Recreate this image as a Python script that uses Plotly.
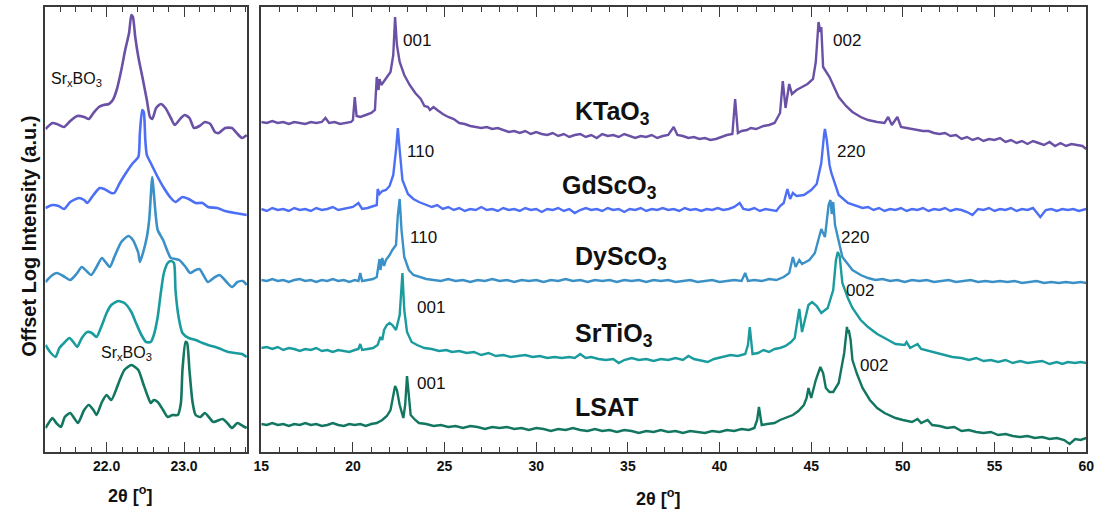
import plotly.graph_objects as go

# ---------------- data (2theta in degrees, log intensity in arbitrary units relative to each trace baseline) -------------
names = ["KTaO3", "GdScO3", "DyScO3", "SrTiO3", "LSAT"]
colors = ["#6a51a6", "#4d6ff6", "#3b91c7", "#1a9b9e", "#127660"]
offsets = [302, 232, 162, 87, 7]

# tick labels
fine_tick_vals = [22.0, 23.0]
fine_tick_text = ["22.0", "23.0"]
wide_tick_vals = [15, 20, 25, 30, 35, 40, 45, 50, 55, 60]
wide_tick_text = ["15", "20", "25", "30", "35", "40", "45", "50", "55", "60"]

# ---- wide scans (right panel) ----
ktao3_x = [15.0, 15.3, 15.6, 15.9, 16.2, 16.5, 16.8, 17.1, 17.4, 17.7, 18.0, 18.3, 18.5, 18.7, 19.0, 19.3, 19.6, 19.9,
           20.0, 20.1, 20.2, 20.4, 20.7, 21.0, 21.2, 21.3, 21.4, 21.45, 21.55, 21.7, 21.9, 22.05, 22.2, 22.3, 22.4,
           22.55, 22.8, 23.1, 23.4, 23.7, 23.9, 24.1, 24.2, 24.4, 24.6, 24.9, 25.2, 25.5, 25.8, 26.1, 26.4, 26.7,
           27.0, 27.3, 27.6, 27.9, 28.2, 28.5, 28.8, 29.1, 29.4, 29.7, 30.0, 30.3, 30.6, 30.9, 31.2, 31.5, 31.8,
           32.1, 32.4, 32.7, 33.0, 33.3, 33.6, 33.9, 34.2, 34.5, 34.8, 35.1, 35.4, 35.7, 36.0, 36.3, 36.6, 36.9,
           37.2, 37.5, 37.7, 38.0, 38.3, 38.6, 38.9, 39.2, 39.5, 39.8, 40.1, 40.4, 40.7, 40.85, 41.0, 41.2, 41.5,
           41.7, 42.0, 42.4, 42.7, 43.0, 43.3, 43.45, 43.6, 43.8, 43.95, 44.2, 44.5, 44.8, 45.1, 45.25, 45.4, 45.5,
           45.55, 45.65, 46.0, 46.5, 46.9, 47.25, 47.7, 48.1, 48.6, 49.0, 49.2, 49.4, 49.7, 49.9, 50.2, 50.5, 50.8,
           51.1, 51.4, 51.7, 52.0, 52.3, 52.6, 52.9, 53.2, 53.5, 53.8, 54.1, 54.4, 54.7, 55.0, 55.3, 55.6, 55.9,
           56.2, 56.5, 56.8, 57.1, 57.4, 57.7, 58.0, 58.3, 58.6, 58.9, 59.2, 59.5, 59.8, 60.0]
ktao3_y = [28, 27, 29, 27, 28, 26, 28, 27, 26, 28, 27, 28, 32, 27, 28, 26, 27, 28,
           30, 53, 34, 33, 35, 37, 40, 73, 60, 71, 65, 69, 74, 78, 95, 133, 105,
           88, 75, 65, 57, 51, 44, 43, 40, 43, 40, 36, 33, 31, 27, 26, 24, 23,
           22, 23, 21, 22, 20, 18, 19, 17, 19, 16, 18, 16, 15, 17, 14, 16, 13,
           15, 16, 13, 15, 12, 16, 14, 15, 13, 16, 14, 12, 14, 13, 15, 12, 14,
           15, 23, 15, 14, 12, 13, 11, 12, 10, 11, 13, 15, 16, 51, 17, 19, 20,
           22, 21, 24, 25, 27, 37, 69, 42, 66, 56, 60, 63, 66, 71, 88, 128, 118,
           123, 83, 73, 53, 44, 38, 33, 30, 28, 27, 33, 25, 33, 23, 22, 21, 20,
           19, 19, 17, 16, 17, 14, 15, 11, 13, 10, 12, 9, 11, 10, 12, 8, 10,
           7, 9, 6, 9, 7, 5, 8, 4, 7, 4, 6, 5, 4, 1]

gdsco3_x = [15.0, 15.3, 15.6, 15.9, 16.2, 16.5, 16.8, 17.1, 17.4, 17.7, 18.0, 18.3, 18.6, 18.9, 19.2, 19.5, 19.8,
            20.0, 20.3, 20.5, 20.8, 21.1, 21.3, 21.35, 21.45, 21.6, 21.8, 22.0, 22.2, 22.35, 22.45, 22.55, 22.7,
            23.0, 23.3, 23.6, 24.0, 24.3, 24.6, 24.9, 25.2, 25.5, 25.8, 26.1, 26.4, 26.7, 27.0, 27.3, 27.6, 27.9,
            28.2, 28.5, 28.8, 29.1, 29.4, 29.7, 30.0, 30.3, 30.6, 30.9, 31.2, 31.5, 31.8, 32.1, 32.4, 32.7, 33.0,
            33.3, 33.6, 33.9, 34.2, 34.5, 34.8, 35.1, 35.4, 35.7, 36.0, 36.3, 36.6, 36.9, 37.2, 37.5, 37.8, 38.1,
            38.4, 38.7, 39.0, 39.3, 39.6, 39.9, 40.2, 40.5, 40.8, 41.1, 41.3, 41.6, 41.9, 42.2, 42.5, 42.8, 43.1,
            43.3, 43.5, 43.7, 43.85, 44.0, 44.2, 44.6, 45.0, 45.3, 45.55, 45.7, 45.75, 45.85, 46.0, 46.1, 46.5,
            47.0, 47.3, 47.8, 48.1, 48.4, 48.7, 49.0, 49.3, 49.6, 49.9, 50.2, 50.5, 50.8, 51.1, 51.4, 51.7, 52.0,
            52.3, 52.6, 52.9, 53.2, 53.5, 53.8, 54.1, 54.4, 54.7, 55.0, 55.3, 55.6, 55.9, 56.2, 56.5, 56.8, 57.1,
            57.5, 57.8, 58.1, 58.4, 58.7, 59.0, 59.3, 59.6, 60.0]
gdsco3_y = [11, 9, 12, 10, 11, 9, 12, 10, 11, 9, 12, 10, 11, 13, 10, 11, 12,
            13, 17, 11, 12, 14, 15, 31, 26, 29, 30, 34, 45, 70, 92, 70, 40,
            26, 21, 18, 15, 13, 15, 11, 13, 10, 12, 9, 11, 10, 13, 10, 11, 9,
            12, 10, 11, 9, 12, 10, 11, 8, 11, 10, 12, 9, 11, 7, 10, 12, 10,
            11, 9, 12, 10, 11, 8, 11, 10, 12, 9, 11, 10, 12, 10, 11, 9, 12,
            10, 11, 9, 11, 10, 12, 10, 11, 13, 17, 11, 10, 12, 9, 11, 10, 9,
            14, 17, 31, 21, 27, 24, 25, 30, 36, 57, 85, 91, 80, 55, 47, 25,
            17, 15, 12, 13, 10, 12, 9, 11, 10, 12, 9, 11, 10, 12, 9, 11, 10,
            12, 9, 11, 10, 8, 5, 11, 10, 12, 9, 11, 10, 12, 9, 11, 10, 12,
            3, 10, 11, 9, 11, 10, 11, 9, 11]

dysco3_x = [15.0, 15.3, 15.6, 15.9, 16.2, 16.5, 16.8, 17.1, 17.4, 17.7, 18.0, 18.3, 18.6, 18.9, 19.2, 19.5, 19.8,
            20.1, 20.3, 20.4, 20.5, 20.8, 21.1, 21.3, 21.45, 21.5, 21.6, 21.7, 21.8, 22.0, 22.15, 22.35, 22.45,
            22.55, 22.65, 22.8, 23.05, 23.3, 23.6, 24.0, 24.4, 24.8, 25.2, 25.6, 26.0, 26.4, 26.8, 27.2, 27.6,
            28.0, 28.4, 28.8, 29.2, 29.6, 30.0, 30.4, 30.8, 31.2, 31.6, 32.0, 32.4, 32.8, 33.2, 33.6, 34.0, 34.4,
            34.8, 35.2, 35.6, 36.0, 36.4, 36.8, 37.2, 37.6, 38.0, 38.4, 38.8, 39.2, 39.6, 40.0, 40.4, 40.8, 41.2,
            41.4, 41.55, 41.9, 42.3, 42.7, 43.1, 43.5, 43.8, 44.0, 44.15, 44.35, 44.5, 44.9, 45.2, 45.4, 45.55,
            45.75, 45.95, 46.05, 46.12, 46.2, 46.3, 46.7, 47.25, 47.7, 48.1, 48.5, 48.9, 49.3, 49.7, 50.1, 50.5,
            50.9, 51.3, 51.7, 52.1, 52.5, 52.9, 53.3, 53.7, 54.1, 54.5, 54.9, 55.3, 55.7, 56.1, 56.5, 56.9, 57.3,
            57.7, 58.1, 58.5, 58.9, 59.3, 59.7, 60.0]
dysco3_y = [10, 9, 11, 9, 10, 8, 10, 11, 9, 10, 8, 10, 9, 11, 9, 10, 8,
            10, 9, 17, 9, 10, 11, 13, 31, 20, 32, 24, 30, 35, 40, 45, 75,
            91, 60, 33, 20, 15, 13, 11, 10, 9, 11, 9, 10, 8, 10, 9, 11,
            9, 10, 8, 10, 9, 10, 8, 10, 9, 11, 9, 10, 8, 10, 9, 10, 8,
            10, 9, 10, 8, 10, 9, 10, 8, 9, 10, 8, 9, 10, 8, 9, 10, 9,
            17, 9, 10, 9, 11, 10, 13, 17, 33, 23, 30, 26, 30, 37, 50, 61,
            53, 85, 90, 76, 88, 65, 33, 20, 15, 12, 10, 11, 9, 10, 8, 10,
            9, 10, 8, 9, 10, 8, 9, 10, 8, 9, 8, 9, 8, 9, 7, 8, 9,
            7, 8, 7, 8, 7, 8, 7]

srtio3_x = [15.0, 15.3, 15.6, 15.9, 16.2, 16.5, 16.8, 17.1, 17.4, 17.7, 18.0, 18.3, 18.6, 18.9, 19.2, 19.5, 19.8,
            20.1, 20.3, 20.4, 20.5, 20.8, 21.1, 21.35, 21.5, 21.6, 21.7, 21.85, 22.0, 22.15, 22.35, 22.55, 22.7,
            22.8, 22.95, 23.2, 23.5, 23.9, 24.3, 24.7, 25.1, 25.4, 25.8, 26.2, 26.6, 27.0, 27.4, 27.8, 28.2, 28.6,
            29.0, 29.4, 29.8, 30.2, 30.6, 31.0, 31.4, 31.8, 32.1, 32.4, 32.7, 33.0, 33.4, 33.8, 34.2, 34.5, 34.8,
            35.2, 35.6, 36.0, 36.4, 36.8, 37.2, 37.6, 38.0, 38.3, 38.6, 38.9, 39.35, 39.7, 40.1, 40.6, 41.0, 41.4,
            41.55, 41.65, 41.8, 42.1, 42.4, 42.7, 43.0, 43.3, 43.6, 43.9, 44.1, 44.25, 44.35, 44.5, 44.7, 44.85,
            45.05, 45.3, 45.55, 45.9, 46.2, 46.35, 46.45, 46.55, 46.7, 47.0, 47.25, 47.7, 48.1, 48.6, 49.2, 49.6,
            50.1, 50.2, 50.4, 50.8, 51.0, 51.4, 51.8, 52.3, 52.7, 53.2, 53.6, 54.0, 54.4, 54.8, 55.2, 55.6, 56.0,
            56.4, 56.8, 57.2, 57.6, 58.0, 58.4, 58.7, 59.0, 59.4, 59.7, 60.0]
srtio3_y = [17, 18, 16, 18, 15, 17, 16, 14, 16, 15, 17, 14, 15, 13, 15, 14, 13,
            15, 16, 21, 15, 16, 17, 20, 28, 25, 35, 40, 42, 40, 35, 50, 92,
            55, 33, 23, 20, 17, 16, 14, 15, 13, 14, 12, 13, 10, 12, 9, 10, 8,
            9, 10, 8, 9, 7, 8, 7, 8, 7, 11, 7, 8, 6, 5, 6, 2, 5,
            7, 5, 6, 4, 6, 5, 7, 5, 9, 6, 5, 3, 6, 8, 10, 9, 11,
            20, 38, 11, 12, 15, 13, 16, 17, 19, 23, 27, 47, 56, 33, 48, 60,
            63, 59, 52, 57, 75, 105, 113, 109, 82, 67, 57, 45, 38, 31, 25, 21,
            20, 23, 17, 21, 16, 14, 12, 10, 8, 7, 5, 7, 4, 5, 3, 5, 2,
            4, 2, 3, 4, 1, 3, 1, 3, 2, 3, 2]

lsat_x = [15.0, 15.3, 15.6, 15.9, 16.2, 16.5, 16.8, 17.1, 17.4, 17.7, 18.0, 18.3, 18.6, 18.9, 19.2, 19.5, 19.8,
          20.1, 20.4, 20.7, 21.0, 21.3, 21.6, 21.85, 22.05, 22.2, 22.3, 22.4, 22.55, 22.75, 22.85, 22.95, 23.05,
          23.15, 23.4, 23.6, 24.0, 24.4, 24.8, 25.2, 25.6, 26.0, 26.4, 26.8, 27.2, 27.6, 28.0, 28.4, 28.8, 29.2,
          29.6, 30.0, 30.4, 30.8, 31.2, 31.6, 32.0, 32.4, 32.8, 33.2, 33.6, 34.0, 34.4, 34.8, 35.2, 35.6, 36.0,
          36.4, 36.8, 37.2, 37.6, 38.0, 38.4, 38.8, 39.2, 39.6, 40.0, 40.4, 40.8, 41.2, 41.6, 41.9, 42.05, 42.15,
          42.3, 42.6, 43.0, 43.3, 43.6, 44.0, 44.3, 44.6, 44.75, 44.85, 45.0, 45.25, 45.5, 45.65, 45.8, 46.0,
          46.2, 46.5, 46.8, 46.95, 47.0, 47.05, 47.15, 47.25, 47.5, 47.8, 48.2, 48.6, 49.0, 49.6, 50.0, 50.5,
          50.8, 51.0, 51.35, 51.6, 52.0, 52.4, 52.8, 53.2, 53.6, 54.0, 54.4, 54.8, 55.2, 55.6, 56.0, 56.4, 56.8,
          57.2, 57.6, 58.0, 58.4, 58.8, 59.1, 59.4, 59.7, 60.0]
lsat_y = [21, 20, 22, 20, 21, 19, 21, 20, 22, 20, 21, 19, 20, 22, 20, 19, 21,
          20, 21, 19, 21, 22, 25, 29, 35, 50, 59, 55, 40, 27, 40, 69, 50,
          30, 25, 22, 21, 19, 20, 18, 19, 17, 19, 18, 16, 18, 17, 18, 16, 17,
          15, 17, 16, 14, 16, 15, 17, 15, 14, 16, 14, 15, 13, 15, 14, 12, 14,
          13, 15, 13, 14, 12, 14, 13, 12, 14, 13, 15, 14, 16, 15, 17, 25, 38,
          20, 21, 22, 25, 27, 30, 34, 40, 47, 57, 47, 65, 78, 72, 57, 53,
          53, 62, 92, 118, 112, 115, 105, 85, 71, 57, 45, 37, 32, 27, 25, 23,
          26, 22, 25, 20, 19, 17, 18, 14, 15, 13, 12, 13, 10, 11, 9, 8, 9,
          7, 8, 6, 7, 5, 1, 6, 5, 7]

wide_x = [ktao3_x, gdsco3_x, dysco3_x, srtio3_x, lsat_x]
wide_y = [ktao3_y, gdsco3_y, dysco3_y, srtio3_y, lsat_y]

# ---- fine scans (left panel) ----
ktao3_fx = [21.21, 21.30, 21.36, 21.45, 21.53, 21.62, 21.71, 21.77, 21.83, 21.90, 21.96, 22.03, 22.08, 22.13, 22.19,
            22.24, 22.29, 22.32, 22.34, 22.37, 22.41, 22.47, 22.52, 22.56, 22.59, 22.64, 22.70, 22.76, 22.83, 22.88,
            22.96, 23.01, 23.07, 23.13, 23.20, 23.27, 23.34, 23.40, 23.45, 23.53, 23.62, 23.68, 23.75, 23.81]
ktao3_fy = [21, 27, 26, 23, 29, 34, 33, 31, 37, 43, 45, 46, 50, 60, 80,
            100, 117, 135, 133, 113, 93, 70, 50, 33, 31, 42, 46, 42, 32, 25,
            32, 35, 32, 22, 24, 28, 26, 18, 17, 22, 22, 17, 12, 15]
gdsco3_fx = [21.21, 21.30, 21.38, 21.45, 21.53, 21.64, 21.71, 21.75, 21.83, 21.91, 21.97, 22.06, 22.10, 22.17, 22.25,
             22.34, 22.41, 22.43, 22.46, 22.48, 22.50, 22.52, 22.57, 22.66, 22.74, 22.83, 22.89, 22.98, 23.06, 23.15,
             23.24, 23.31, 23.43, 23.53, 23.66, 23.81]
gdsco3_fy = [12, 15, 14, 11, 18, 22, 20, 17, 25, 32, 31, 27, 27, 37, 47,
             57, 63, 87, 110, 108, 80, 65, 57, 43, 32, 22, 18, 23, 21, 17,
             17, 13, 12, 9, 7, 5]
dysco3_fx = [21.21, 21.30, 21.36, 21.44, 21.53, 21.62, 21.68, 21.80, 21.87, 21.94, 22.04, 22.10, 22.19, 22.28, 22.34,
             22.41, 22.43, 22.47, 22.52, 22.55, 22.59, 22.61, 22.66, 22.73, 22.79, 22.83, 22.89, 22.94, 23.02, 23.08,
             23.15, 23.20, 23.25, 23.31, 23.40, 23.46, 23.55, 23.62, 23.69, 23.76, 23.81]
dysco3_fy = [8, 15, 17, 14, 10, 17, 23, 15, 23, 32, 23, 33, 48, 54, 50,
             37, 28, 37, 53, 70, 113, 97, 60, 50, 38, 32, 31, 30, 23, 17,
             20, 21, 15, 8, 13, 15, 8, 3, 8, 9, 5]
srtio3_fx = [21.21, 21.27, 21.34, 21.39, 21.45, 21.52, 21.58, 21.62, 21.68, 21.75, 21.81, 21.87, 21.94, 22.00, 22.06,
             22.15, 22.23, 22.32, 22.38, 22.45, 22.51, 22.57, 22.61, 22.66, 22.70, 22.74, 22.79, 22.83, 22.87, 22.89,
             22.93, 22.98, 23.06, 23.15, 23.24, 23.31, 23.44, 23.57, 23.66, 23.75, 23.81]
srtio3_fy = [20, 13, 8, 17, 22, 27, 22, 18, 27, 33, 32, 28, 40, 52, 60,
             64, 62, 53, 42, 30, 23, 23, 30, 48, 72, 92, 102, 104, 102, 75,
             48, 32, 27, 25, 22, 20, 17, 13, 12, 11, 8]
lsat_fx = [21.21, 21.26, 21.30, 21.35, 21.41, 21.46, 21.53, 21.58, 21.63, 21.71, 21.77, 21.83, 21.87, 21.94, 22.00,
           22.06, 22.17, 22.23, 22.32, 22.41, 22.47, 22.54, 22.57, 22.61, 22.66, 22.73, 22.79, 22.85, 22.92, 22.96,
           22.98, 23.02, 23.04, 23.07, 23.11, 23.15, 23.21, 23.27, 23.32, 23.38, 23.50, 23.57, 23.62, 23.69, 23.76,
           23.81]
lsat_fy = [17, 23, 27, 22, 18, 28, 32, 27, 22, 35, 40, 35, 30, 43, 50,
           45, 65, 75, 80, 75, 62, 47, 42, 45, 43, 35, 28, 30, 30, 42,
           75, 103, 102, 75, 43, 30, 28, 32, 28, 23, 26, 21, 17, 22, 19,
           17]

fine_x = [ktao3_fx, gdsco3_fx, dysco3_fx, srtio3_fx, lsat_fx]
fine_y = [ktao3_fy, gdsco3_fy, dysco3_fy, srtio3_fy, lsat_fy]

# labels
substrate_labels = ["KTaO<sub>3</sub>", "GdScO<sub>3</sub>", "DyScO<sub>3</sub>", "SrTiO<sub>3</sub>", "LSAT"]
substrate_label_x = [32.0, 31.3, 32.0, 32.0, 32.0]
substrate_label_y = [339, 265, 194, 117, 45]
peak_labels = ["001", "002", "110", "220", "110", "220", "001", "002", "001", "002"]
peak_label_x = [22.6, 46.1, 22.82, 46.31, 23.03, 46.53, 23.36, 46.8, 23.36, 47.57]
peak_label_y = [411, 411, 300, 300, 214, 214, 145, 162, 69, 87]
film_label = "Sr<sub>x</sub>BO<sub>3</sub>"
film_label_x = [21.26, 21.9]
film_label_y = [372, 99]

# ---------------- figure ----------------
FONT = "Liberation Sans, Arial, Helvetica, sans-serif"
fig = go.Figure()
for i in range(5):
    fig.add_trace(go.Scatter(x=fine_x[i], y=[v + offsets[i] for v in fine_y[i]], mode="lines",
                             line=dict(color=colors[i], width=2.6, shape="spline", smoothing=0.6),
                             xaxis="x", yaxis="y", showlegend=False, hoverinfo="skip"))
    fig.add_trace(go.Scatter(x=wide_x[i], y=[v + offsets[i] for v in wide_y[i]], mode="lines",
                             line=dict(color=colors[i], width=2.4), xaxis="x2", yaxis="y2",
                             showlegend=False, name=names[i]))

axis_common = dict(showline=True, linecolor="#3a3a3a", linewidth=1.5, mirror="ticks", showgrid=False,
                   zeroline=False, ticks="inside", ticklen=10, tickwidth=1.3, tickcolor="#3a3a3a",
                   tickmode="array", tickfont=dict(family=FONT, size=14, color="#111111"))

fig.update_layout(
    width=1105, height=514, margin=dict(l=0, r=0, t=0, b=0),
    paper_bgcolor="white", plot_bgcolor="white",
    xaxis=dict(domain=[38 / 1105, 243 / 1105], range=[21.21, 23.82], tickvals=fine_tick_vals,
               ticktext=["<b>" + t + "</b>" for t in fine_tick_text],
               minor=dict(ticks="inside", ticklen=5, tickwidth=1.2, tickmode="linear", dtick=0.2, tick0=22,
                          tickcolor="#3a3a3a"),
               anchor="y", **axis_common),
    yaxis=dict(domain=[1 - 452 / 514, 1 - 7 / 514], range=[0, 445], showticklabels=False, showline=True,
               linecolor="#3a3a3a", linewidth=1.5, mirror=True, showgrid=False, zeroline=False, ticks="",
               anchor="x"),
    xaxis2=dict(domain=[257 / 1105, 1094 / 1105], range=[15, 60], tickvals=wide_tick_vals,
                ticktext=["<b>" + t + "</b>" for t in wide_tick_text],
                minor=dict(ticks="inside", ticklen=5, tickwidth=1.2, tickmode="linear", dtick=1, tick0=15,
                           tickcolor="#3a3a3a"),
                anchor="y2", **axis_common),
    yaxis2=dict(domain=[1 - 452 / 514, 1 - 7 / 514], range=[0, 445], showticklabels=False, showline=True,
                linecolor="#3a3a3a", linewidth=1.5, mirror=True, showgrid=False, zeroline=False, ticks="",
                anchor="x2"),
)

for t, x, y in zip(substrate_labels, substrate_label_x, substrate_label_y):
    fig.add_annotation(x=x, y=y, xref="x2", yref="y2", text="<b>" + t + "</b>", showarrow=False,
                       xanchor="left", yanchor="middle", font=dict(family=FONT, size=25, color="#111111"))
for t, x, y in zip(peak_labels, peak_label_x, peak_label_y):
    fig.add_annotation(x=x, y=y, xref="x2", yref="y2", text=t, showarrow=False,
                       xanchor="left", yanchor="middle", font=dict(family=FONT, size=17, color="#111111"))
for x, y in zip(film_label_x, film_label_y):
    fig.add_annotation(x=x, y=y, xref="x", yref="y", text=film_label, showarrow=False,
                       xanchor="left", yanchor="middle", font=dict(family=FONT, size=16, color="#111111"))

# axis titles
fig.add_annotation(x=124 / 1105, y=1 - 494 / 514, xref="paper", yref="paper", text="<b>2θ [<sup>o</sup>]</b>",
                   showarrow=False, xanchor="center", yanchor="middle", font=dict(family=FONT, size=18, color="#111111"))
fig.add_annotation(x=660 / 1105, y=1 - 497 / 514, xref="paper", yref="paper", text="<b>2θ [<sup>o</sup>]</b>",
                   showarrow=False, xanchor="center", yanchor="middle", font=dict(family=FONT, size=18, color="#111111"))
fig.add_annotation(x=21 / 1105, y=1 - 236 / 514, xref="paper", yref="paper",
                   text="<b>Offset Log Intensity (a.u.)</b>", textangle=-90, showarrow=False,
                   xanchor="center", yanchor="middle", font=dict(family=FONT, size=20, color="#111111"))

fig.write_html("out.html")
